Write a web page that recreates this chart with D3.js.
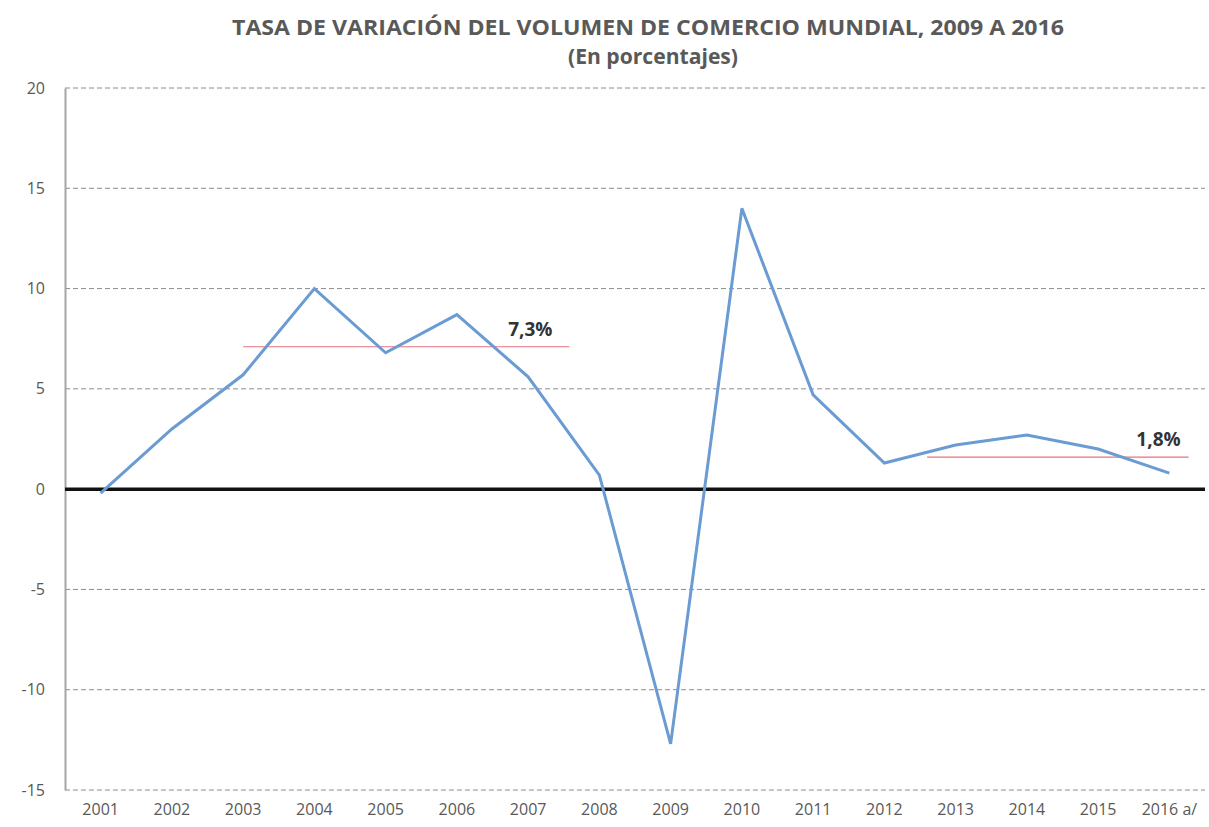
<!DOCTYPE html>
<html>
<head>
<meta charset="utf-8">
<script src="https://cdn.jsdelivr.net/npm/d3@7"></script>
<style>
  body { margin: 0; background: #fff; }
  text { font-family: "Open Sans", sans-serif; }
</style>
</head>
<body>
<div id="chart"></div>
<script>
// chart data
const years = ["2001", "2002", "2003", "2004", "2005", "2006", "2007", "2008",
  "2009", "2010", "2011", "2012", "2013", "2014", "2015", "2016 a/"];
const growth = [-0.2, 3.0, 5.7, 10.0, 6.8, 8.7, 5.6, 0.7, -12.7, 14.0, 4.7, 1.3, 2.2, 2.7, 2.0, 0.8];
const yTicks = [-15, -10, -5, 0, 5, 10, 15, 20];

// average lines (position in year index, value, label)
const avgLabels = ["7,3%", "1,8%"];
const avgValues = [7.1, 1.6];
const avgFrom = [2, 11.6];
const avgTo = [6.58, 15.27];

const width = 1209;
const height = 827;
const margin = {top: 88, right: 4, bottom: 37, left: 65};

const svg = d3.select("#chart")
  .append("svg")
  .attr("width", width)
  .attr("height", height);

const x = d3.scaleBand()
  .domain(years)
  .range([margin.left, width - margin.right]);

// fractional index -> pixel (for the average segments)
const xi = d3.scaleLinear()
  .domain([0, years.length - 1])
  .range([x(years[0]) + x.bandwidth() / 2, x(years[years.length - 1]) + x.bandwidth() / 2]);

const y = d3.scaleLinear()
  .domain([-15, 20])
  .range([height - margin.bottom, margin.top]);

// title
svg.append("text")
  .attr("x", 648).attr("y", 35)
  .attr("text-anchor", "middle")
  .attr("font-size", 21).attr("font-weight", "bold")
  .attr("fill", "#595959")
  .attr("textLength", 832).attr("lengthAdjust", "spacingAndGlyphs")
  .text("TASA DE VARIACIÓN DEL VOLUMEN DE COMERCIO MUNDIAL, 2009 A 2016");

svg.append("text")
  .attr("x", 653).attr("y", 64)
  .attr("text-anchor", "middle")
  .attr("font-size", 21).attr("font-weight", "bold")
  .attr("fill", "#595959")
  .attr("textLength", 170).attr("lengthAdjust", "spacingAndGlyphs")
  .text("(En porcentajes)");

// dashed gridlines
svg.append("g")
  .selectAll("line")
  .data(yTicks.filter(d => d !== 0))
  .enter()
  .append("line")
  .attr("x1", margin.left)
  .attr("x2", width - margin.right)
  .attr("y1", d => y(d))
  .attr("y2", d => y(d))
  .attr("stroke", "#8c8c8c")
  .attr("stroke-width", 1)
  .attr("stroke-dasharray", "5,3");

// y axis
const yAxis = svg.append("g")
  .attr("transform", `translate(${margin.left},0)`)
  .call(d3.axisLeft(y).tickValues(yTicks).tickFormat(d => String(d)).tickSize(0).tickPadding(20));
yAxis.select(".domain").attr("stroke", "#a6a6a6").attr("stroke-width", 2);
yAxis.selectAll("text")
  .attr("font-family", "Open Sans, sans-serif")
  .attr("font-size", 16)
  .attr("fill", "#595959");

// x axis labels
const xAxis = svg.append("g")
  .attr("transform", `translate(0,${y(-15)})`)
  .call(d3.axisBottom(x).tickSize(0).tickPadding(14));
xAxis.select(".domain").remove();
xAxis.selectAll("text")
  .attr("font-family", "Open Sans, sans-serif")
  .attr("font-size", 16)
  .attr("fill", "#595959");

// zero line
svg.append("line")
  .attr("x1", margin.left)
  .attr("x2", width - margin.right)
  .attr("y1", y(0))
  .attr("y2", y(0))
  .attr("stroke", "#111")
  .attr("stroke-width", 3.5);

// average segments
svg.append("g")
  .selectAll("line")
  .data(avgValues)
  .enter()
  .append("line")
  .attr("x1", (d, i) => xi(avgFrom[i]))
  .attr("x2", (d, i) => xi(avgTo[i]))
  .attr("y1", d => y(d))
  .attr("y2", d => y(d))
  .attr("stroke", "#e8707e")
  .attr("stroke-width", 1.2);

// data line
const line = d3.line()
  .x((d, i) => x(years[i]) + x.bandwidth() / 2)
  .y(d => y(d));

svg.append("path")
  .datum(growth)
  .attr("d", line)
  .attr("fill", "none")
  .attr("stroke", "#6a9bd3")
  .attr("stroke-width", 3)
  .attr("stroke-linejoin", "miter");

// average labels, placed left of the segment end
const labelShift = [17, 8];
svg.append("g")
  .selectAll("text")
  .data(avgLabels)
  .enter()
  .append("text")
  .attr("x", (d, i) => xi(avgTo[i]) - labelShift[i])
  .attr("y", (d, i) => y(avgValues[i]) - 11)
  .attr("text-anchor", "end")
  .attr("font-size", 19)
  .attr("font-weight", "bold")
  .attr("fill", "#333")
  .text(d => d);
</script>
</body>
</html>
